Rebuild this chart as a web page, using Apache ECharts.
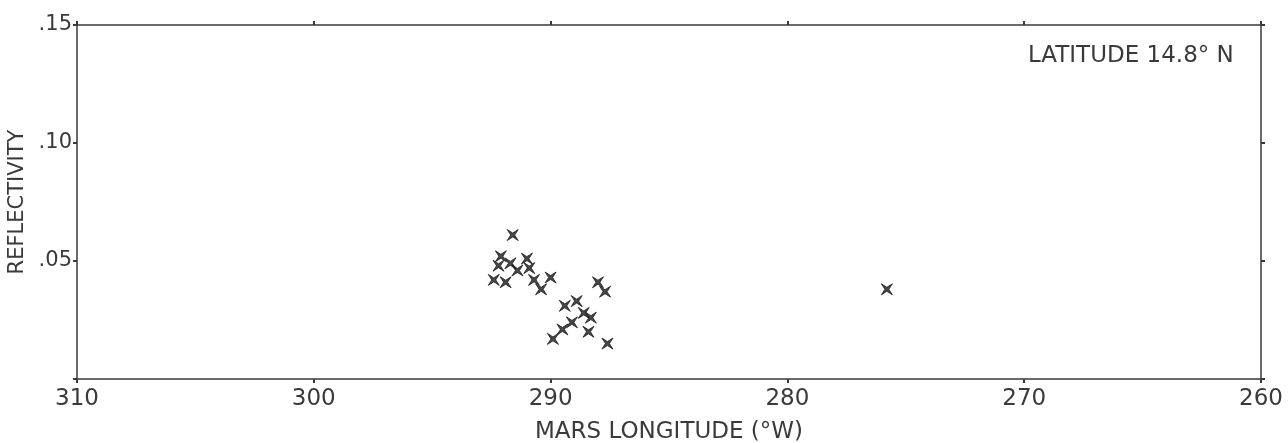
<!DOCTYPE html>
<html>
<head>
<meta charset="utf-8">
<title>Reflectivity vs Mars longitude</title>
<script src="https://cdn.jsdelivr.net/npm/echarts@6/dist/echarts.min.js"></script>
<style>
  html, body { margin: 0; padding: 0; background: #fff; }
  #chart { width: 1288px; height: 443px; }
</style>
</head>
<body>
<div id="chart"></div>
<script>
// data
const longitudes = [
  291.6, 292.1, 291.7, 292.2, 291.0, 291.4, 290.9, 292.4, 291.9, 290.7, 290.0, 290.4,
  288.0, 287.7, 288.9, 289.4, 288.6, 288.3, 289.1, 289.5, 288.4, 289.9, 287.6, 275.8
];
const reflectivity = [
  0.061, 0.052, 0.049, 0.048, 0.051, 0.046, 0.047, 0.042, 0.041, 0.042, 0.043, 0.038,
  0.041, 0.037, 0.033, 0.031, 0.028, 0.026, 0.024, 0.021, 0.020, 0.017, 0.015, 0.038
];
const xTicks = [310, 300, 290, 280, 270, 260];
const yTicks = [0.05, 0.10, 0.15];
const latitudeNote = "LATITUDE 14.8° N";

const ink = "#3a3a3a";
const font = "DejaVu Sans";
// four-point star, like the hand plotted x marks
const starMark = "path://M0,0L5,3.2L10,0L6.8,5L10,10L5,6.8L0,10L3.2,5Z";

const points = longitudes.map((lon, i) => [lon, reflectivity[i]]);

const chart = echarts.init(document.getElementById("chart"));

const baseX = {
  type: "value",
  min: xTicks[xTicks.length - 1],
  max: xTicks[0],
  interval: 10,
  inverse: true,
  splitLine: { show: false },
  axisLine: { show: true, onZero: false, lineStyle: { color: ink, width: 1.5 } },
  axisTick: { show: true, length: 4, lineStyle: { color: ink, width: 2 } },
};
const baseY = {
  type: "value",
  min: 0,
  max: 0.15,
  interval: 0.05,
  splitLine: { show: false },
  axisLine: { show: true, onZero: false, lineStyle: { color: ink, width: 1.5 } },
  axisTick: { show: true, length: 4, lineStyle: { color: ink, width: 2 } },
};

chart.setOption({
  animation: false,
  backgroundColor: "#fff",
  grid: { left: 77, right: 27, top: 25, bottom: 64, containLabel: false, outerBoundsMode: "none" },
  xAxis: [
    Object.assign({}, baseX, {
      position: "bottom",
      name: "MARS LONGITUDE (°W)",
      nameLocation: "middle",
      nameGap: 42,
      nameTextStyle: { color: ink, fontFamily: font, fontSize: 23 },
      axisLabel: {
        color: ink, fontFamily: font, fontSize: 23, margin: 9,
        formatter: v => xTicks.includes(v) ? String(v) : ""
      },
    }),
    Object.assign({}, baseX, { position: "top", axisLabel: { show: false } }),
  ],
  yAxis: [
    Object.assign({}, baseY, {
      position: "left",
      name: "REFLECTIVITY",
      nameLocation: "middle",
      nameGap: 40,
      nameTextStyle: { color: ink, fontFamily: font, fontSize: 21 },
      axisLabel: {
        color: ink, fontFamily: font, fontSize: 21, margin: 5,
        formatter: v => {
          const r = Math.round(v * 100) / 100;
          if (!yTicks.some(t => Math.abs(t - r) < 1e-9)) return "";
          return "." + String(Math.round(r * 100)).padStart(2, "0");
        }
      },
    }),
    Object.assign({}, baseY, { position: "right", axisLabel: { show: false } }),
  ],
  graphic: [{
    type: "text",
    left: 1028,
    top: 45,
    style: { text: latitudeNote, fill: ink, font: "23px " + font }
  }],
  series: [{
    type: "scatter",
    data: points,
    symbol: starMark,
    symbolSize: 11,
    itemStyle: { color: "#1a1a1a", borderColor: "#1a1a1a", borderWidth: 1 },
  }],
});
</script>
</body>
</html>
